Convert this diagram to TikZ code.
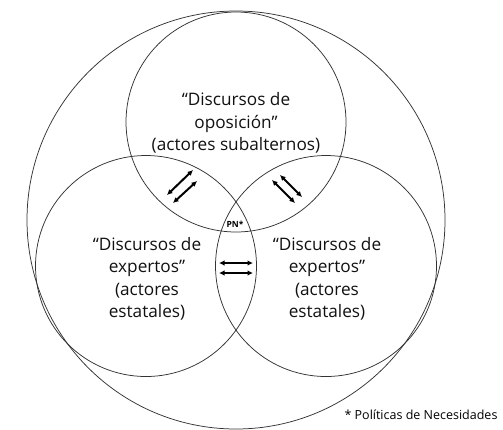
\documentclass[tikz,border=0pt]{standalone}
\usepackage{fontspec}
\setmainfont{Open Sans}
\definecolor{colorLine}{HTML}{333333}
\definecolor{colorText}{HTML}{111111}
\usetikzlibrary{arrows.meta}
\tikzset{
  ring/.style={circle,draw=colorLine,line width=0.75pt,inner sep=0pt},
  discurso/.style={align=center,text=colorText,font=\fontsize{17.2}{22.5}\selectfont},
  twoway/.style={{Latex[length=5.5pt,width=5.5pt]}-{Latex[length=5.5pt,width=5.5pt]},line width=2pt},
}

\begin{document}
\begin{tikzpicture}[x=1pt,y=-1pt]
   \useasboundingbox (0,0) rectangle (503,429);

   % CIRCLES
   \node[ring,minimum size=418pt] (cAll) at (236,220) {}; % outer
   \node[ring,minimum size=220pt] (cTop) at (236,122) {}; % oposicion
   \node[ring,minimum size=221pt] (cLeft) at (146,266) {}; % expertos
   \node[ring,minimum size=221pt] (cRight) at (326,266) {}; % expertos

   % TEXTS
   \node[discurso] (tTop) at (236,123) {“Discursos de\\oposición”\\(actores subalternos)};
   \node[discurso] (tLeft) at (147,279) {“Discursos de\\expertos”\\(actores\\estatales)};
   \node[discurso] (tRight) at (327,279) {“Discursos de\\expertos”\\(actores\\estatales)};
   \node[font=\bfseries\fontsize{8.5}{10}\selectfont] (pn) at (235,224) {PN*};
   \node[anchor=east,font=\fontsize{12.5}{15}\selectfont] (nota) at (501,415) {* Políticas de Necesidades};

   % ARROW ENDS
   \coordinate (l1) at (167,195); \coordinate (l2) at (193,170);
   \coordinate (l3) at (173,203); \coordinate (l4) at (197,181);
   \coordinate (r1) at (272,180); \coordinate (r2) at (295,203);
   \coordinate (r3) at (280,175); \coordinate (r4) at (302,197);
   \coordinate (h1) at (219,263); \coordinate (h2) at (253,263);
   \coordinate (h3) at (219,273); \coordinate (h4) at (253,273);

   % DRAW ARROWS
   \path[draw,twoway] (l1)--(l2);
   \path[draw,twoway] (l3)--(l4);
   \path[draw,twoway] (r1)--(r2);
   \path[draw,twoway] (r3)--(r4);
   \path[draw,twoway] (h1)--(h2);
   \path[draw,twoway] (h3)--(h4);

\end{tikzpicture}
\end{document}
